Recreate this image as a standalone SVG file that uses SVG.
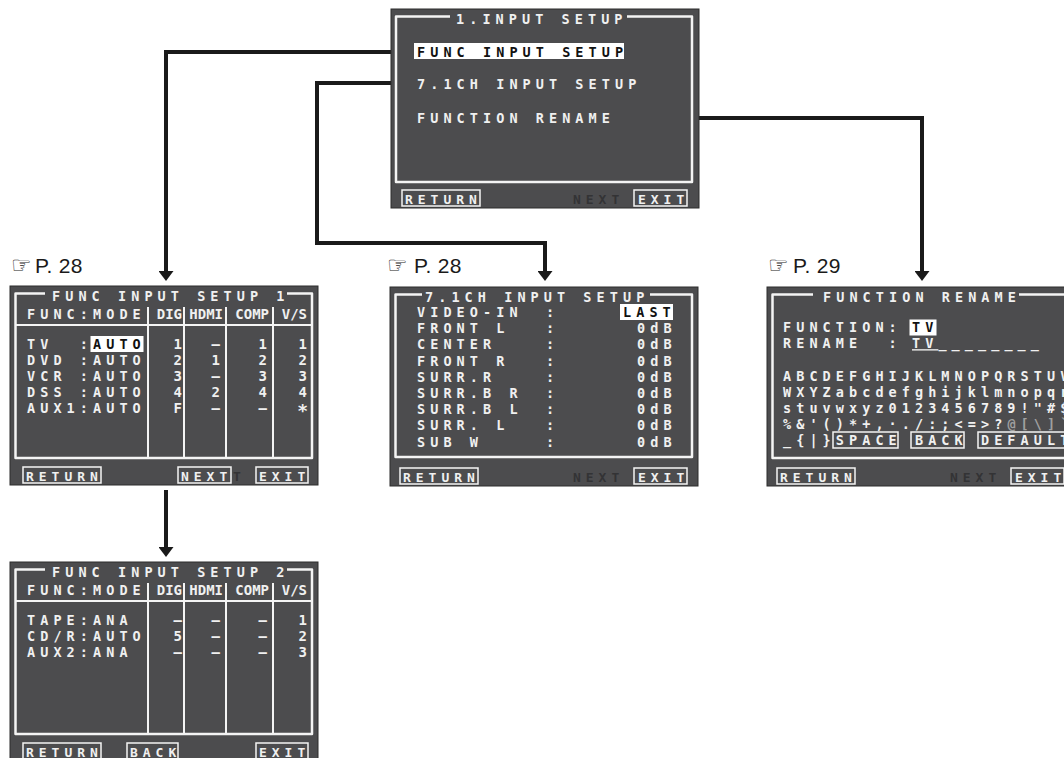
<svg xmlns="http://www.w3.org/2000/svg" width="1064" height="758" viewBox="0 0 1064 758" xml:space="preserve">
<defs>
<style>
.bg{fill:#ffffff}
.scr{fill:#4c4c4e;stroke:#2c2c2c;stroke-width:1}
.frm{fill:none;stroke:#f4f4f4;stroke-width:2.5;stroke-linejoin:round}
.div{fill:none;stroke:#f4f4f4;stroke-width:2}
.t{font-family:"DejaVu Sans Mono","Liberation Mono",monospace;font-weight:bold;font-size:13.5px;letter-spacing:5.07px;fill:#f0f0f0;white-space:pre}
.b{font-family:"DejaVu Sans Mono","Liberation Mono",monospace;font-weight:bold;font-size:13px;letter-spacing:4.97px;fill:#f0f0f0;white-space:pre}
.n{font-family:"DejaVu Sans Mono","Liberation Mono",monospace;font-weight:bold;font-size:14px;fill:#f0f0f0}
.hl{fill:#ffffff}
.ht{fill:#111111}
.dim{fill:#333335}
.dm2{fill:#a0a0a0}
.btn{fill:none;stroke:#f4f4f4;stroke-width:1.5}
.ref{font-family:"Liberation Sans",Arial,sans-serif;font-size:21px;letter-spacing:0.3px;fill:#1a1a1a}
.hand{font-family:"DejaVu Sans",sans-serif;font-size:23px;fill:#1a1a1a}
.con{fill:none;stroke:#1a1a1a;stroke-width:4;stroke-linejoin:miter;marker-end:url(#ah)}
</style>
<marker id="ah" markerUnits="userSpaceOnUse" markerWidth="10" markerHeight="15" refX="0" refY="7.5" orient="auto" viewBox="0 0 10 15"><path d="M0,0 L10,7.5 L0,15 z" fill="#1a1a1a"/></marker>
</defs>
<rect class="bg" width="1064" height="758"/>

<g id="connectors">
<path class="con" d="M391,52H166V271"/>
<path class="con" d="M391,83H317V243H545V271"/>
<path class="con" d="M698,118H922V271"/>
<path class="con" d="M166,490V547"/>
</g>

<g id="input-setup" transform="translate(391,9)">
<rect class="scr" width="308" height="199"/>
<path class="frm" d="M59,7.5H5V173H301V7.5H236"/>
<text class="t" x="65" y="14.5">1.INPUT SETUP</text>
<rect class="hl" x="23" y="34" width="210" height="16"/>
<text class="t ht" x="26" y="47.5">FUNC INPUT SETUP</text>
<text class="t" x="26" y="79.5">7.1CH INPUT SETUP</text>
<text class="t" x="26" y="113.5">FUNCTION RENAME</text>
<rect class="btn" x="11" y="181" width="78" height="16"/>
<text class="b" x="14" y="195">RETURN</text>
<text class="b dim" x="182" y="195">NEXT</text>
<rect class="btn" x="243" y="181" width="53" height="16"/>
<text class="b" x="247" y="195">EXIT</text>
</g>

<g id="ref-func1">
<text class="hand" x="11" y="273">☞</text>
<text class="ref" x="35" y="273">P. 28</text>
</g>
<g id="ref-71ch">
<text class="hand" x="387" y="273">☞</text>
<text class="ref" x="414" y="273">P. 28</text>
</g>
<g id="ref-rename">
<text class="hand" x="768" y="273">☞</text>
<text class="ref" x="793" y="273">P. 29</text>
</g>

<g id="func-input-setup-1" transform="translate(10,286)">
<rect class="scr" width="308" height="199"/>
<path class="frm" d="M35,7.5H5.5V172H302V7.5H277"/>
<text class="t" x="42" y="14.5">FUNC INPUT SETUP 1</text>
<text class="t" x="17" y="32.5">FUNC:MODE</text>
<text class="n" x="172" y="32.5" text-anchor="end">DIG</text>
<text class="n" x="213" y="32.5" text-anchor="end">HDMI</text>
<text class="n" x="259" y="32.5" text-anchor="end">COMP</text>
<text class="n" x="297" y="32.5" text-anchor="end">V/S</text>
<path class="div" d="M5.5,39H302M138,21V172M174,21V172M216,21V172M263,21V172"/>
<rect class="hl" x="80.5" y="50" width="53" height="16"/>
<text class="t" x="17" y="62.5" xml:space="preserve">TV  :<tspan class="ht">AUTO</tspan></text>
<text class="t" x="17" y="78.5">DVD :AUTO</text>
<text class="t" x="17" y="94.5">VCR :AUTO</text>
<text class="t" x="17" y="110.5">DSS :AUTO</text>
<text class="t" x="17" y="126.5">AUX1:AUTO</text>
<g class="n" text-anchor="end">
<text x="172" y="62.5">1</text><text x="210" y="62.5">–</text><text x="257" y="62.5">1</text><text x="297" y="62.5">1</text>
<text x="172" y="78.5">2</text><text x="210" y="78.5">1</text><text x="257" y="78.5">2</text><text x="297" y="78.5">2</text>
<text x="172" y="94.5">3</text><text x="210" y="94.5">–</text><text x="257" y="94.5">3</text><text x="297" y="94.5">3</text>
<text x="172" y="110.5">4</text><text x="210" y="110.5">2</text><text x="257" y="110.5">4</text><text x="297" y="110.5">4</text>
<text x="172" y="126.5">F</text><text x="210" y="126.5">–</text><text x="257" y="126.5">–</text><text x="298" y="131" font-size="18">*</text>
</g>
<rect class="btn" x="13" y="181" width="78" height="16"/>
<text class="b" x="16" y="195">RETURN</text>
<rect class="btn" x="168" y="181" width="53" height="16"/>
<text class="b" x="171" y="195">NEXT</text>
<text class="b dim" x="223" y="195">T</text>
<rect class="btn" x="246" y="181" width="52" height="16"/>
<text class="b" x="249" y="195">EXIT</text>
</g>

<g id="input-setup-71ch" transform="translate(390,287)">
<rect class="scr" width="308" height="199"/>
<path class="frm" d="M32,7.5H5.5V170H302V7.5H260"/>
<text class="t" x="35" y="14.5">7.1CH INPUT SETUP</text>
<text class="t" x="27" y="30">VIDEO-IN</text>
<text class="t" x="27" y="46.2">FRONT L</text>
<text class="t" x="27" y="62.4">CENTER</text>
<text class="t" x="27" y="78.6">FRONT R</text>
<text class="t" x="27" y="94.8">SURR.R</text>
<text class="t" x="27" y="111">SURR.B R</text>
<text class="t" x="27" y="127.2">SURR.B L</text>
<text class="t" x="27" y="143.4">SURR. L</text>
<text class="t" x="27" y="159.6">SUB W</text>
<g class="t">
<text x="156" y="30">:</text><text x="156" y="46.2">:</text><text x="156" y="62.4">:</text><text x="156" y="78.6">:</text><text x="156" y="94.8">:</text><text x="156" y="111">:</text><text x="156" y="127.2">:</text><text x="156" y="143.4">:</text><text x="156" y="159.6">:</text>
</g>
<rect class="hl" x="230" y="17" width="53" height="16"/>
<text class="t ht" x="233" y="30">LAST</text>
<g class="t">
<text x="247" y="46.2">0dB</text><text x="247" y="62.4">0dB</text><text x="247" y="78.6">0dB</text><text x="247" y="94.8">0dB</text><text x="247" y="111">0dB</text><text x="247" y="127.2">0dB</text><text x="247" y="143.4">0dB</text><text x="247" y="159.6">0dB</text>
</g>
<rect class="btn" x="10" y="181" width="78" height="16"/>
<text class="b" x="13" y="195">RETURN</text>
<text class="b dim" x="183" y="195">NEXT</text>
<rect class="btn" x="244" y="181" width="53" height="16"/>
<text class="b" x="248" y="195">EXIT</text>
</g>

<g id="function-rename" transform="translate(767,287)">
<rect class="scr" width="308" height="199"/>
<path class="frm" d="M46,7.5H5.5V171H302V7.5H252"/>
<text class="t" x="56" y="14.5">FUNCTION RENAME</text>
<text class="t" x="16" y="45">FUNCTION:</text>
<rect class="hl" x="142.5" y="32.5" width="27" height="16"/>
<text class="t ht" x="145" y="45">TV</text>
<text class="t" x="16" y="61.2" xml:space="preserve">RENAME  :</text>
<text class="t" x="145" y="61.2"><tspan text-decoration="underline">TV</tspan>________</text>
<text class="t" x="16" y="93.6">ABCDEFGHIJKLMNOPQRSTUV</text>
<text class="t" x="16" y="109.8">WXYZabcdefghijklmnopqr</text>
<text class="t" x="16" y="126">stuvwxyz0123456789!"#$</text>
<text class="t" x="16" y="142.2">%&amp;'()*+,·./:;&lt;=&gt;?<tspan class="dm2">@[\]`</tspan></text>
<text class="t" x="16" y="158.4">_{|}SPACE BACK DEFAULT</text>
<rect class="btn" x="66" y="145" width="65" height="16"/>
<rect class="btn" x="144" y="145" width="53" height="16"/>
<rect class="btn" x="211" y="145" width="110" height="16"/>
<rect class="btn" x="10" y="181" width="78" height="16"/>
<text class="b" x="13" y="195">RETURN</text>
<text class="b dim" x="183" y="195">NEXT</text>
<rect class="btn" x="244" y="181" width="53" height="16"/>
<text class="b" x="248" y="195">EXIT</text>
</g>

<g id="func-input-setup-2" transform="translate(10,562)">
<rect class="scr" width="308" height="199"/>
<path class="frm" d="M35,7.5H5.5V172H302V7.5H277"/>
<text class="t" x="42" y="14.5">FUNC INPUT SETUP 2</text>
<text class="t" x="17" y="32.5">FUNC:MODE</text>
<text class="n" x="172" y="32.5" text-anchor="end">DIG</text>
<text class="n" x="213" y="32.5" text-anchor="end">HDMI</text>
<text class="n" x="259" y="32.5" text-anchor="end">COMP</text>
<text class="n" x="297" y="32.5" text-anchor="end">V/S</text>
<path class="div" d="M5.5,39H302M138,21V172M174,21V172M216,21V172M263,21V172"/>
<text class="t" x="17" y="62.5">TAPE:ANA</text>
<text class="t" x="17" y="78.5">CD/R:AUTO</text>
<text class="t" x="17" y="94.5">AUX2:ANA</text>
<g class="n" text-anchor="end">
<text x="172" y="62.5">–</text><text x="210" y="62.5">–</text><text x="257" y="62.5">–</text><text x="297" y="62.5">1</text>
<text x="172" y="78.5">5</text><text x="210" y="78.5">–</text><text x="257" y="78.5">–</text><text x="297" y="78.5">2</text>
<text x="172" y="94.5">–</text><text x="210" y="94.5">–</text><text x="257" y="94.5">–</text><text x="297" y="94.5">3</text>
</g>
<rect class="btn" x="13" y="181" width="78" height="16"/>
<text class="b" x="16" y="195">RETURN</text>
<rect class="btn" x="117" y="181" width="51" height="16"/>
<text class="b" x="120" y="195">BACK</text>
<rect class="btn" x="246" y="181" width="52" height="16"/>
<text class="b" x="249" y="195">EXIT</text>
</g>
</svg>
